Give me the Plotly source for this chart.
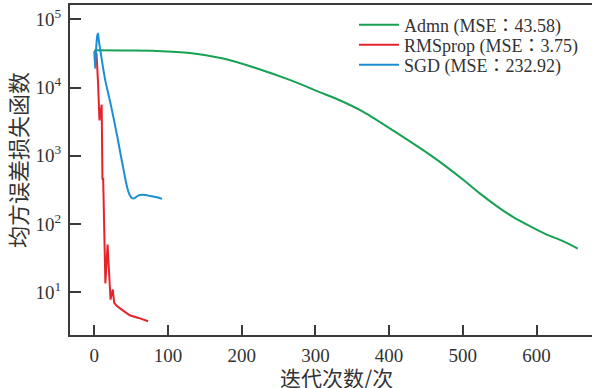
import plotly.graph_objects as go

# Adam (labelled "Admn")
adam_x = [0, 40, 85, 130, 175, 221, 266, 310, 333, 365, 411, 456, 478, 501, 523, 546, 568, 591, 614, 636, 656]
adam_y = [35000, 34800, 34400, 32100, 26600, 19000, 12800, 8200, 6500, 4400, 2140, 1020, 687, 440, 281, 183, 127, 93, 70, 56, 43.58]

rms_x = [0, 3, 5, 7, 10, 11, 12, 15, 18, 22, 25, 27, 30, 35, 40, 48, 60, 73]
rms_y = [34000, 31000, 12000, 3300, 5600, 450, 470, 13.5, 50, 7.8, 11, 7, 6.4, 5.8, 5.3, 4.6, 4.2, 3.75]

sgd_x = [0, 1, 2, 3, 4, 5, 6, 8, 10, 12, 15, 18, 21, 24, 27, 30, 33, 36, 39, 42, 45, 48, 51, 54, 57, 60, 65, 70, 75, 80, 85, 92]
sgd_y = [34000, 19000, 30000, 45000, 58000, 62000, 50000, 36000, 26000, 19000, 12500, 9000, 6500, 4600, 3200, 2200,
         1500, 1000, 680, 460, 330, 265, 240, 238, 250, 262, 268, 265, 258, 252, 246, 232.92]

names = ["Admn (MSE\uff1a43.58)", "RMSprop (MSE\uff1a3.75)", "SGD (MSE\uff1a232.92)"]
colors = ["#17a152", "#e5232b", "#1b8fd6"]

x_ticks = [0, 100, 200, 300, 400, 500, 600]
y_ticks = [10, 100, 1000, 10000, 100000]
y_tick_text = ["10<sup>1</sup>", "10<sup>2</sup>", "10<sup>3</sup>", "10<sup>4</sup>", "10<sup>5</sup>"]

x_title = "迭代次数/次"
y_title = "均方误差损失函数"

font_main = "Liberation Serif, Noto Sans CJK TC"
axcol = "#3a3a3a"

fig = go.Figure()
legends = ["legend", "legend2", "legend3"]
for xs, ys, nm, c, lg in [(adam_x, adam_y, names[0], colors[0], legends[0]),
                          (rms_x, rms_y, names[1], colors[1], legends[1]),
                          (sgd_x, sgd_y, names[2], colors[2], legends[2])]:
    fig.add_trace(go.Scatter(x=xs, y=ys, mode="lines", name=nm, legend=lg,
                             line=dict(color=c, width=2)))
fig.data[0].line.shape = "spline"
fig.data[0].line.smoothing = 0.8
fig.data[2].line.shape = "spline"
fig.data[2].line.smoothing = 0.6

leg_common = dict(x=0.544, xanchor="left", yanchor="middle", itemwidth=40,
                  bgcolor="rgba(0,0,0,0)", font=dict(size=18, family=font_main, color="#333333"))

fig.update_layout(
    width=592, height=388,
    margin=dict(l=70, r=0, t=5, b=53),
    paper_bgcolor="white", plot_bgcolor="white",
    font=dict(family=font_main, size=19, color="#333333"),
    showlegend=True,
    legend=dict(y=0.939, **leg_common),
    legend2=dict(y=0.879, **leg_common),
    legend3=dict(y=0.818, **leg_common),
    xaxis=dict(range=[-33, 675.3], tickvals=x_ticks, ticks="inside", ticklen=10,
               tickwidth=1.5, tickcolor=axcol, showline=True, linecolor=axcol,
               linewidth=2, mirror=True, showgrid=False, zeroline=False,
               automargin=False, ticklabelstandoff=2,
               tickfont=dict(size=19, family=font_main)),
    yaxis=dict(type="log", range=[0.373, 5.209], tickvals=y_ticks, ticktext=y_tick_text,
               ticks="inside", ticklen=11, tickwidth=1.5, tickcolor=axcol,
               showline=True, linecolor=axcol, linewidth=2, mirror=False,
               showgrid=False, zeroline=False, automargin=False, ticklabelstandoff=3,
               tickfont=dict(size=19, family=font_main)),
    annotations=[
        dict(text=x_title, xref="paper", yref="paper", x=0.5096, y=-0.127,
             xanchor="center", yanchor="middle", showarrow=False,
             font=dict(size=21, family="Noto Sans CJK SC", color="#333333")),
        dict(text=y_title, xref="paper", yref="paper", x=-0.1015, y=0.53,
             xanchor="center", yanchor="middle", showarrow=False, textangle=-90,
             font=dict(size=22, family="Noto Sans CJK SC", color="#333333")),
    ],
)

fig.write_html("out.html", config={"displayModeBar": False},
               post_script="document.body.style.margin='0';document.body.style.overflow='hidden';")
